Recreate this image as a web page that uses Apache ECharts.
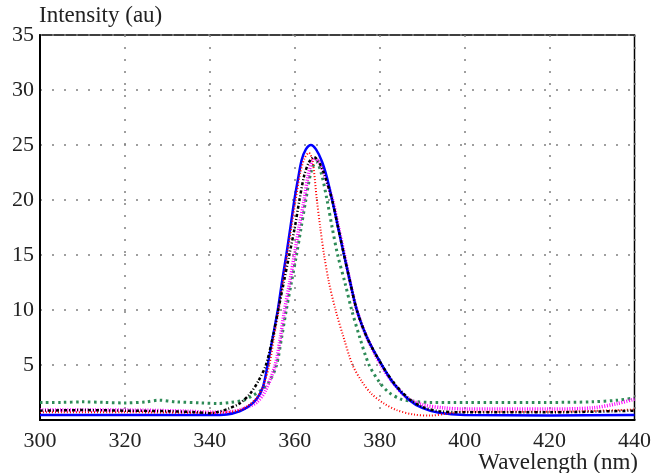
<!DOCTYPE html>
<html>
<head>
<meta charset="utf-8">
<script src="https://cdn.jsdelivr.net/npm/echarts@6/dist/echarts.min.js"></script>
<style>
  html, body { margin: 0; padding: 0; background: #fff; }
  #chart { width: 654px; height: 473px; }
</style>
</head>
<body>
<div id="chart"></div>
<script>
// wavelength (nm), intensity (au) pairs
const blueData = [[300,0.45],[320,0.45],[340,0.45],[344,0.5],[347,0.8],[349,1.2],[351,1.9],[352.5,3],[353.6,5],[354.8,7.5],[356,10],[357,12.6],[358,15],[359,17.6],[359.9,20],[360.8,22],[361.6,23.6],[362.6,24.6],[363.8,25],[365,24.6],[366.4,23.5],[367.6,22],[368.8,20],[370.2,17.5],[371.6,15],[373,12.6],[374.6,10],[377,7.5],[380.5,5],[383.5,3.2],[387,1.8],[390,1.1],[394,0.65],[400,0.45],[420,0.42],[440,0.45]];

const blackData = [[300,0.85],[310,0.9],[320,0.85],[330,0.8],[337,0.7],[340,0.62],[342,0.75],[344.2,1.0],[347,1.5],[349.5,2.4],[351.5,3.6],[353.2,5],[354.8,7.5],[356.1,10],[357.4,12.5],[358.7,15],[360,17.5],[361.1,20],[362.2,22.2],[363.3,23.4],[364.5,23.9],[365.6,23.5],[366.8,22.5],[368.8,20],[370.2,17.5],[371.6,15],[373,12.6],[374.6,10],[377,7.5],[380.5,5],[383.5,3.3],[387,1.9],[390,1.2],[394,0.8],[400,0.7],[420,0.7],[440,0.85]];

const magentaData = [[300,0.9],[320,0.9],[335,0.8],[340,0.7],[344,0.72],[347,0.9],[349,1.2],[351,1.6],[353,2.6],[355.4,5],[356.6,7.5],[357.6,10],[358.8,12.5],[359.9,15],[361,17.5],[362.2,20],[363.2,22.3],[364.6,23.8],[365.8,23.4],[367,22.3],[368.9,20],[370.3,17.5],[371.7,15],[373,12.6],[374.6,10],[377,7.5],[380.3,5],[383.3,3.3],[386.5,2],[390,1.4],[395,1.1],[400,1.0],[420,1.0],[430,1.1],[436,1.5],[440,1.9]];

const greenData = [[300,1.6],[305,1.6],[310,1.65],[315,1.6],[320,1.55],[325,1.65],[328,1.8],[332,1.65],[338,1.55],[342,1.5],[345,1.6],[348,1.8],[350,2.2],[352,2.7],[354,3.5],[355.7,5],[356.9,7.5],[358,10],[359.2,12.5],[360.4,15],[361.5,17.5],[362.6,20],[363.8,22.5],[365,23.5],[366.2,22.5],[367.6,20],[368.8,17.5],[370.1,15],[371.8,12.5],[373.4,10],[375.3,7.5],[377.5,5],[380,3.4],[382.2,2.5],[385,1.9],[388,1.7],[392,1.6],[400,1.6],[420,1.6],[430,1.65],[436,1.8],[440,2.0]];

const redData = [[300,0.7],[320,0.7],[340,0.65],[344,0.7],[347,0.9],[349,1.3],[351,2],[352.5,3],[354,5],[355.1,7.5],[356.2,10],[357.2,12.5],[358.2,15],[359.2,17.5],[360.2,20],[361.3,22.5],[362.3,23.8],[363.3,24.3],[364.2,23.5],[365.2,20],[366,17.5],[366.9,15],[368,12.6],[369.6,10],[371.5,7.5],[373.6,5],[375.8,3.5],[378,2.4],[381,1.5],[384,0.9],[388,0.5],[392,0.4],[396,0.6],[400,0.75],[420,0.75],[440,0.95]];

const font = 'Liberation Serif';

function line(data, color, width, dash) {
    return {
        type: 'line',
        data: data,
        smooth: 0.3,
        showSymbol: false,
        lineStyle: { color: color, width: width, type: dash, cap: 'butt' }
    };
}

const chart = echarts.init(document.getElementById('chart'));

const option = {
    animation: false,
    grid: {
        left: 40, right: 18, top: 35, bottom: 53,
        show: true, borderColor: '#000', borderWidth: 1.5
    },
    xAxis: {
        type: 'value',
        min: 300, max: 440, interval: 20,
        axisLine: { lineStyle: { color: '#000', width: 2 } },
        axisTick: { show: false },
        axisLabel: { color: '#222', fontFamily: font, fontSize: 22, margin: 10 },
        splitLine: { lineStyle: { color: '#808080', width: 1.5, type: [2, 10] } }
    },
    yAxis: {
        type: 'value',
        min: 0, max: 35, interval: 5,
        axisLine: { show: true, lineStyle: { color: '#000', width: 2 } },
        axisTick: { show: false },
        axisLabel: {
            color: '#222', fontFamily: font, fontSize: 22, margin: 6,
            formatter: v => v === 0 ? '' : v
        },
        splitLine: { lineStyle: { color: '#808080', width: 1.5, type: [2, 10] } }
    },
    graphic: [
        { type: 'text', left: 39, top: 4, style: { text: 'Intensity (au)', font: '23px "Liberation Serif"', fill: '#222' } },
        { type: 'text', right: 16, top: 451, style: { text: 'Wavelength (nm)', font: '23px "Liberation Serif"', fill: '#222' } }
    ],
    series: [
        line(greenData, '#2e8b57', 3, [2.5, 3.5]),
        line(magentaData, '#ff00ff', 3.5, [1, 1.5]),
        line(blueData, '#0000ff', 2.5, 'solid'),
        line(redData, '#ff0000', 2, [1, 2]),
        line(blackData, '#000000', 2.5, [3, 2, 1, 2])
    ]
};

chart.setOption(option);
</script>
</body>
</html>
